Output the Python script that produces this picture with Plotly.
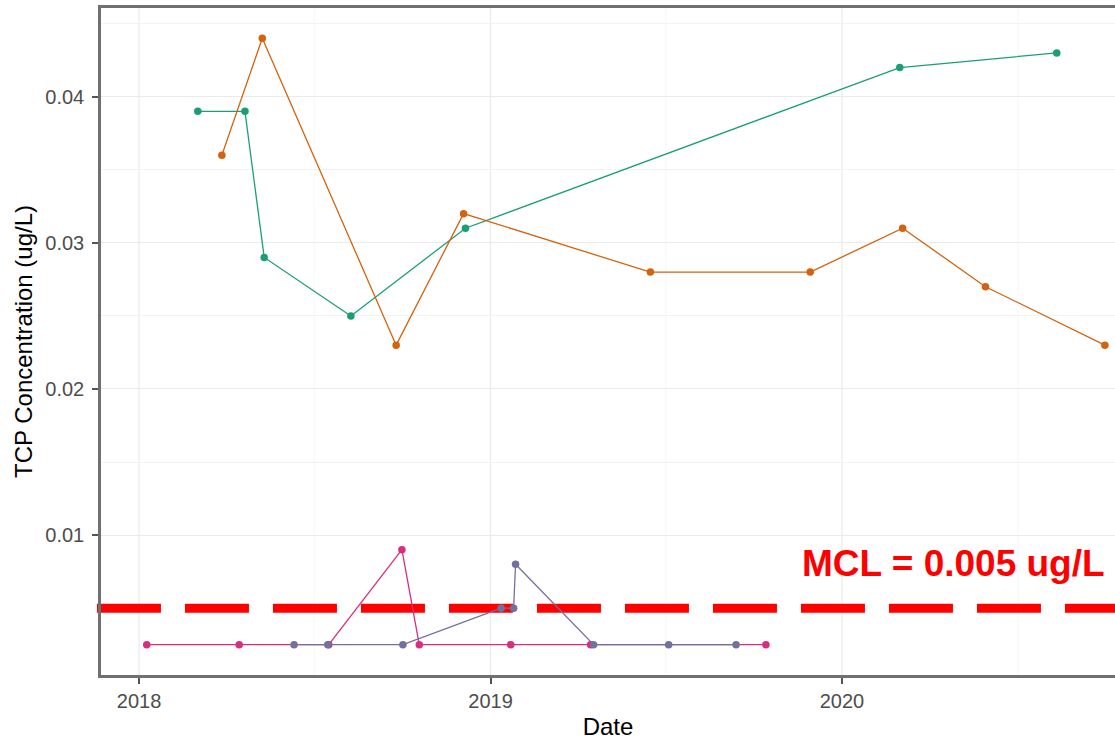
import plotly.graph_objects as go

# TCP sampling results per well (dates and concentrations in ug/L)
teal_dates = ["2018-03-03", "2018-04-21", "2018-05-11", "2018-08-09",
              "2018-12-06", "2020-03-01", "2020-08-11"]
teal_vals = [0.039, 0.039, 0.029, 0.025, 0.031, 0.042, 0.043]

orange_dates = ["2018-03-28", "2018-05-09", "2018-09-25", "2018-12-04",
                "2019-06-16", "2019-11-29", "2020-03-04", "2020-05-29",
                "2020-09-30"]
orange_vals = [0.036, 0.044, 0.023, 0.032, 0.028, 0.028, 0.031, 0.027, 0.023]

pink_dates = ["2018-01-09", "2018-04-15", "2018-07-17", "2018-10-01",
              "2018-10-19", "2019-01-22", "2019-04-15", "2019-10-14"]
pink_vals = [0.0025, 0.0025, 0.0025, 0.009, 0.0025, 0.0025, 0.0025, 0.0025]

purple_dates = ["2018-06-11", "2018-07-16", "2018-10-02", "2019-01-12",
                "2019-01-25", "2019-01-27", "2019-04-18", "2019-07-05",
                "2019-09-13"]
purple_vals = [0.0025, 0.0025, 0.0025, 0.005, 0.005, 0.008, 0.0025, 0.0025,
               0.0025]

mcl_value = 0.005
mcl_label = "MCL = 0.005 ug/L"

x_tick_vals = ["2018-01-01", "2019-01-01", "2020-01-01"]
x_tick_text = ["2018", "2019", "2020"]
x_minor_vals = ["2018-07-02", "2019-07-02", "2020-07-02"]
y_tick_vals = [0.01, 0.02, 0.03, 0.04]
y_tick_text = ["0.01", "0.02", "0.03", "0.04"]
y_minor_vals = [0.015, 0.025, 0.035, 0.045]

series = [
    (teal_dates, teal_vals, "#1B9E77"),
    (orange_dates, orange_vals, "#D5620E"),
    (pink_dates, pink_vals, "#D92E7C"),
    (purple_dates, purple_vals, "#71709E"),
]

fig = go.Figure()
for dates, vals, color in series:
    fig.add_trace(go.Scatter(
        x=dates, y=vals, mode="lines+markers",
        line=dict(color=color, width=1.3),
        marker=dict(color=color, size=7.5),
        showlegend=False,
    ))

# vertical grid drawn as background shapes so the MCL dashes stay unbroken
for xv in x_tick_vals:
    fig.add_shape(type="line", xref="x", yref="paper", x0=xv, x1=xv,
                  y0=0, y1=1, line=dict(color="#EBEBEB", width=1.3),
                  layer="below")
for xv in x_minor_vals:
    fig.add_shape(type="line", xref="x", yref="paper", x0=xv, x1=xv,
                  y0=0, y1=1, line=dict(color="#F3F3F3", width=0.7),
                  layer="below")

# MCL reference line (dashed) and its label
fig.add_shape(
    type="line", xref="paper", yref="y",
    x0=-0.004, x1=1.0, y0=mcl_value, y1=mcl_value,
    line=dict(color="#FF0000", width=9, dash="64px,24px"),
    layer="between",
)
fig.add_annotation(
    text=mcl_label, xref="paper", yref="paper",
    x=(800 - 101) / 1014, y=(675 - 563) / 667,
    xanchor="left", yanchor="middle", showarrow=False,
    font=dict(family="Liberation Sans, Arial", size=37, color="#FF0000",
              weight="bold"),
)

tick_font = dict(family="Liberation Sans, Arial", size=20, color="#4D4D4D")
title_font = dict(family="Liberation Sans, Arial", size=24, color="#000000")

fig.update_xaxes(
    range=["2017-11-22 12:00", "2020-10-10 12:00"],
    tickvals=x_tick_vals, ticktext=x_tick_text,
    tickfont=tick_font,
    ticks="outside", ticklen=6, tickwidth=1.5, tickcolor="#555555",
    showgrid=False,
    showline=True, linecolor="#707070", linewidth=2.5, mirror=True,
    zeroline=False,
    title=dict(text="Date", font=title_font, standoff=8),
)
fig.update_yaxes(
    range=[0.000425, 0.046075],
    tickvals=y_tick_vals, ticktext=y_tick_text,
    tickfont=tick_font,
    ticks="outside", ticklen=6, tickwidth=1.5, tickcolor="#555555",
    ticklabelstandoff=4,
    showgrid=True, gridcolor="#EBEBEB", gridwidth=1.3,
    minor=dict(showgrid=True, gridcolor="#F3F3F3", gridwidth=0.7,
               tickvals=y_minor_vals),
    showline=True, linecolor="#707070", linewidth=2.5, mirror=False,
    zeroline=False,
    title=dict(text="TCP Concentration (ug/L)", font=title_font, standoff=6),
)

fig.update_layout(
    width=1115, height=740,
    margin=dict(l=101, r=0, t=8, b=65),
    paper_bgcolor="white", plot_bgcolor="white",
    font=dict(family="Liberation Sans, Arial"),
)

fig.write_html("out.html")
